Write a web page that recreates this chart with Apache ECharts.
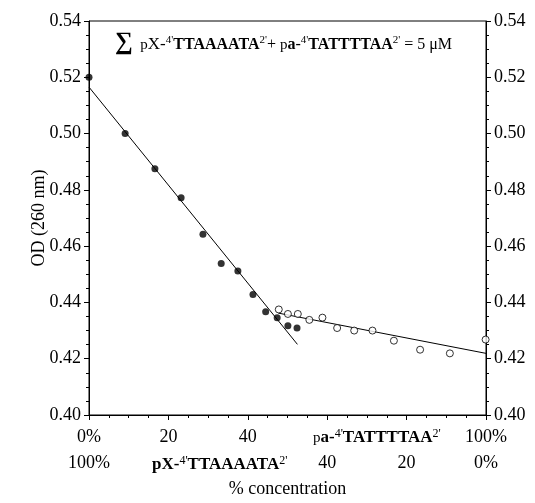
<!DOCTYPE html>
<html>
<head>
<meta charset="utf-8">
<script src="https://cdn.jsdelivr.net/npm/echarts@6/dist/echarts.min.js"></script>
<style>html,body{margin:0;padding:0;background:#fff}#c{width:535px;height:503px}</style>
</head>
<body>
<div id="c"></div>
<script>
// ---- data ----
const xTicks = [0, 20, 40, 60, 80, 100];
const xTopRow = ['0%', '20', '40', ' ', ' ', '100%'];
const xBottomRow = ['100%', ' ', ' ', '40', '20', '0%'];
const filledX = [0, 9.1, 16.6, 23.2, 28.7, 33.3, 37.5, 41.3, 44.5, 47.4, 50.1, 52.4];
const filledY = [0.520, 0.500, 0.4875, 0.4772, 0.4642, 0.4538, 0.4512, 0.4428, 0.4367, 0.4346, 0.4317, 0.4309];
const openX = [47.8, 50.1, 52.6, 55.5, 58.8, 62.5, 66.8, 71.4, 76.8, 83.4, 90.9, 99.9];
const openY = [0.4375, 0.4359, 0.4359, 0.4338, 0.4346, 0.4309, 0.4300, 0.4300, 0.4264, 0.4232, 0.4219, 0.4268];
const fit1X = [0, 52.5];
const fit1Y = [0.5165, 0.4251];
const fit2X = [47.7, 100];
const fit2Y = [0.4362, 0.4219];
const yMin = 0.40, yMax = 0.54, yStep = 0.02;

const zip = (xs, ys) => xs.map((x, i) => [x, ys[i]]);
const F = 'Liberation Serif, Times New Roman, serif';
const LH = 18;
const richBase = {
  n: {fontFamily: F, fontSize: 16, fontWeight: 'normal', color: '#000', lineHeight: LH, verticalAlign: 'bottom'},
  p: {fontFamily: F, fontSize: 15, fontWeight: 'normal', color: '#000', lineHeight: LH, verticalAlign: 'bottom'},
  x: {fontFamily: F, fontSize: 17, fontWeight: 'normal', color: '#000', lineHeight: LH, verticalAlign: 'bottom'},
  b: {fontFamily: F, fontSize: 16, fontWeight: 'bold', color: '#000', lineHeight: LH, verticalAlign: 'bottom'},
  sup: {fontFamily: F, fontSize: 11, fontWeight: 'normal', color: '#000', lineHeight: LH, verticalAlign: 'top'},
  sig: {fontFamily: F, fontSize: 25, fontWeight: 'bold', color: '#000', lineHeight: LH, verticalAlign: 'bottom', padding: [0, 0, -2, 0]}
};
const richLabel = {
  p: {fontFamily: F, fontSize: 15, fontWeight: 'normal', color: '#000', lineHeight: LH, verticalAlign: 'bottom'},
  b: {fontFamily: F, fontSize: 17, fontWeight: 'bold', color: '#000', lineHeight: LH, verticalAlign: 'bottom'},
  sup: {fontFamily: F, fontSize: 12, fontWeight: 'normal', color: '#000', lineHeight: LH, verticalAlign: 'top'}
};

const chart = echarts.init(document.getElementById('c'), null, {renderer: 'canvas'});
const yAxisBase = {
  type: 'value', min: yMin, max: yMax, interval: yStep,
  axisLine: {show: true, lineStyle: {color: '#000', width: 1}},
  axisTick: {show: true, inside: false, length: 5, lineStyle: {color: '#000'}},
  minorTick: {show: true, splitNumber: 4, length: 3, lineStyle: {color: '#000'}},
  splitLine: {show: false},
  axisLabel: {color: '#000', fontFamily: F, fontSize: 18, margin: 8, formatter: v => v.toFixed(2)}
};
chart.setOption({
  animation: false,
  backgroundColor: '#fff',
  grid: {left: 89, right: 49, top: 21, bottom: 85, show: true, borderColor: '#000', borderWidth: 1},
  title: [
    {
      left: 110, top: 30,
      text: '{sig|∑}{p|  p}{x|X-}{sup|4\'}{b|TTAAAATA}{sup|2\'}{n|+ }{p|p}{b|a}{n|-}{sup|4\'}{b|TATTTTAA}{sup|2\'}{n| = 5 μM}',
      textStyle: {rich: richBase}
    },
    {
      left: 147, top: 450,
      text: '{b|pX-}{sup|4\'}{b|TTAAAATA}{sup|2\'}',
      textStyle: {rich: richLabel}
    },
    {
      left: 308, top: 423,
      text: '{p|p}{b|a-}{sup|4\'}{b|TATTTTAA}{sup|2\'}',
      textStyle: {rich: richLabel}
    }
  ],
  xAxis: {
    type: 'value', min: 0, max: 100, interval: 20,
    name: '% concentration', nameLocation: 'middle', nameGap: 65, nameMoveOverlap: false,
    nameTextStyle: {color: '#000', fontFamily: F, fontSize: 18},
    axisLine: {show: true, onZero: false, lineStyle: {color: '#000', width: 1}},
    axisTick: {show: true, inside: false, length: 5, lineStyle: {color: '#000'}},
    minorTick: {show: true, splitNumber: 4, length: 3, lineStyle: {color: '#000'}},
    splitLine: {show: false},
    axisLabel: {
      color: '#000', fontFamily: F, fontSize: 18, margin: 9, lineHeight: 26,
      formatter: v => {
        const i = xTicks.indexOf(Math.round(v));
        return i < 0 ? '' : xTopRow[i] + '\n' + xBottomRow[i];
      }
    }
  },
  yAxis: [
    Object.assign({}, yAxisBase, {
      position: 'left',
      name: 'OD (260 nm)', nameLocation: 'middle', nameGap: 41, nameRotate: 90, nameMoveOverlap: false,
      nameTextStyle: {color: '#000', fontFamily: F, fontSize: 18}
    }),
    Object.assign({}, yAxisBase, {position: 'right'})
  ],
  series: [
    {type: 'line', data: zip(fit1X, fit1Y), symbol: 'none', lineStyle: {color: '#000', width: 1}, z: 1},
    {type: 'line', data: zip(fit2X, fit2Y), symbol: 'none', lineStyle: {color: '#000', width: 1}, z: 1},
    {type: 'scatter', data: zip(filledX, filledY), symbol: 'circle', symbolSize: 7,
     itemStyle: {color: '#000'}, z: 3},
    {type: 'scatter', data: zip(openX, openY), symbol: 'circle', symbolSize: 7,
     itemStyle: {color: '#fff', borderColor: '#000', borderWidth: 1}, z: 3}
  ]
});
</script>
</body>
</html>
